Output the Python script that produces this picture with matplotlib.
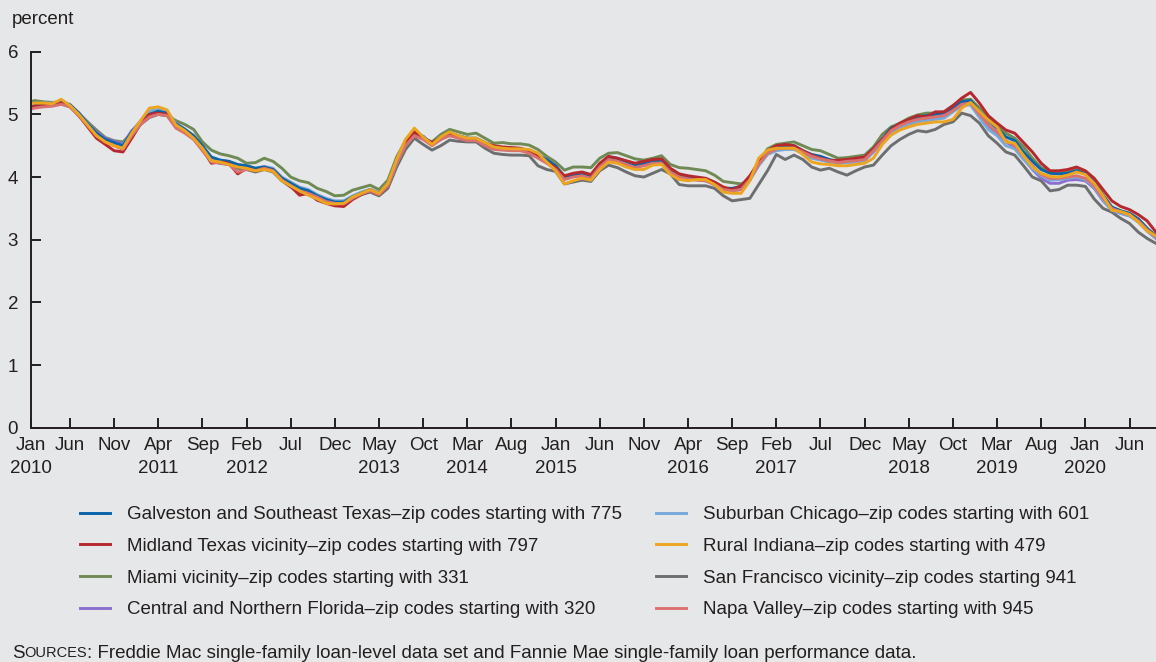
import matplotlib
matplotlib.use("Agg")
import matplotlib.pyplot as plt

plt.rcParams['font.family'] = ['Liberation Sans', 'DejaVu Sans']

# ---------------- data (monthly, Jan 2010 .. Sep 2020) ----------------
galveston = [
    5.12, 5.15, 5.16, 5.16, 5.20, 5.15, 5.02, 4.85, 4.70, 4.60, 4.55, 4.50,
    4.72, 4.88, 5.00, 5.05, 5.02, 4.85, 4.76, 4.66, 4.50, 4.32, 4.27, 4.25,
    4.20, 4.18, 4.14, 4.16, 4.12, 3.98, 3.90, 3.82, 3.78, 3.70, 3.64, 3.60,
    3.60, 3.68, 3.74, 3.80, 3.74, 3.88, 4.25, 4.52, 4.70, 4.65, 4.52, 4.60,
    4.70, 4.66, 4.62, 4.62, 4.55, 4.48, 4.47, 4.46, 4.45, 4.42, 4.35, 4.28,
    4.18, 4.01, 4.04, 4.06, 4.02, 4.20, 4.32, 4.30, 4.25, 4.20, 4.22, 4.26,
    4.27, 4.12, 4.03, 4.00, 3.98, 3.97, 3.90, 3.82, 3.82, 3.85, 4.00, 4.22,
    4.40, 4.48, 4.50, 4.50, 4.42, 4.36, 4.33, 4.28, 4.25, 4.27, 4.28, 4.30,
    4.45, 4.60, 4.78, 4.84, 4.90, 4.96, 4.98, 5.00, 5.02, 5.10, 5.20, 5.22,
    5.05, 4.90, 4.78, 4.64, 4.58, 4.40, 4.25, 4.12, 4.06, 4.05, 4.06, 4.10,
    4.05, 3.92, 3.70, 3.52, 3.46, 3.42, 3.33, 3.18, 3.05]
midland = [
    5.10, 5.13, 5.14, 5.15, 5.18, 5.14, 4.98, 4.80, 4.62, 4.52, 4.42, 4.40,
    4.62, 4.85, 5.00, 5.02, 5.00, 4.82, 4.74, 4.62, 4.45, 4.22, 4.24, 4.22,
    4.05, 4.14, 4.10, 4.14, 4.10, 3.95, 3.85, 3.71, 3.74, 3.63, 3.58, 3.54,
    3.53, 3.64, 3.72, 3.78, 3.72, 3.86, 4.25, 4.55, 4.72, 4.62, 4.55, 4.62,
    4.68, 4.64, 4.62, 4.60, 4.54, 4.50, 4.48, 4.47, 4.46, 4.42, 4.34, 4.24,
    4.15, 4.02, 4.06, 4.08, 4.04, 4.22, 4.33, 4.30, 4.26, 4.22, 4.25, 4.28,
    4.29, 4.14, 4.05, 4.02, 4.00, 3.98, 3.92, 3.84, 3.80, 3.86, 4.02, 4.24,
    4.42, 4.50, 4.52, 4.50, 4.42, 4.35, 4.30, 4.26, 4.27, 4.28, 4.30, 4.32,
    4.45, 4.60, 4.76, 4.86, 4.92, 4.98, 4.96, 5.04, 5.04, 5.14, 5.26, 5.35,
    5.18, 4.98, 4.86, 4.75, 4.70, 4.55, 4.40, 4.22, 4.10, 4.10, 4.12, 4.16,
    4.10, 3.98, 3.80, 3.62, 3.53, 3.48, 3.40, 3.30, 3.12]
miami = [
    5.18, 5.22, 5.20, 5.19, 5.20, 5.15, 5.02, 4.88, 4.75, 4.63, 4.58, 4.56,
    4.70, 4.86, 4.98, 5.00, 4.98, 4.90, 4.84, 4.76, 4.56, 4.43, 4.37, 4.34,
    4.30, 4.22, 4.23, 4.30, 4.25, 4.14, 4.00, 3.94, 3.91, 3.82, 3.77, 3.70,
    3.71, 3.79, 3.83, 3.87, 3.80, 3.95, 4.32, 4.58, 4.72, 4.62, 4.56, 4.68,
    4.76, 4.72, 4.68, 4.70, 4.62, 4.54, 4.55, 4.53, 4.53, 4.51, 4.44, 4.33,
    4.24, 4.11, 4.16, 4.16, 4.15, 4.30, 4.38, 4.39, 4.34, 4.29, 4.27, 4.30,
    4.34, 4.20, 4.15, 4.14, 4.12, 4.10, 4.03, 3.93, 3.91, 3.89, 3.95, 4.22,
    4.45, 4.52, 4.54, 4.56, 4.50, 4.44, 4.42, 4.36, 4.30, 4.31, 4.33, 4.35,
    4.48, 4.68, 4.80, 4.86, 4.94, 4.99, 5.02, 5.02, 5.04, 5.14, 5.23, 5.24,
    5.10, 4.95, 4.82, 4.70, 4.62, 4.48, 4.30, 4.15, 4.09, 4.08, 4.10, 4.12,
    4.06, 3.95, 3.72, 3.52, 3.46, 3.42, 3.33, 3.18, 3.06]
central_fl = [
    5.12, 5.16, 5.17, 5.17, 5.20, 5.15, 5.02, 4.86, 4.72, 4.62, 4.57, 4.53,
    4.74, 4.88, 5.00, 5.04, 5.00, 4.84, 4.75, 4.65, 4.48, 4.28, 4.26, 4.25,
    4.18, 4.17, 4.13, 4.15, 4.11, 3.96, 3.88, 3.80, 3.76, 3.69, 3.63, 3.59,
    3.59, 3.68, 3.75, 3.80, 3.74, 3.88, 4.26, 4.53, 4.68, 4.63, 4.52, 4.62,
    4.68, 4.64, 4.60, 4.60, 4.52, 4.45, 4.44, 4.43, 4.43, 4.40, 4.32, 4.25,
    4.12, 3.98, 4.03, 4.04, 4.00, 4.18, 4.30, 4.27, 4.22, 4.16, 4.20, 4.25,
    4.24, 4.10, 4.02, 3.99, 3.96, 3.94, 3.88, 3.82, 3.80, 3.82, 3.98, 4.20,
    4.38, 4.46, 4.46, 4.46, 4.40, 4.32, 4.28, 4.26, 4.22, 4.24, 4.25, 4.27,
    4.40, 4.56, 4.72, 4.80, 4.86, 4.88, 4.92, 4.94, 4.96, 5.05, 5.15, 5.16,
    4.98, 4.82, 4.70, 4.56, 4.48, 4.30, 4.12, 3.98, 3.90, 3.90, 3.95, 3.96,
    3.94, 3.82, 3.62, 3.48, 3.42, 3.38, 3.30, 3.14, 3.02]
chicago = [
    5.14, 5.16, 5.18, 5.18, 5.21, 5.16, 5.02, 4.85, 4.70, 4.60, 4.54, 4.50,
    4.72, 4.90, 5.05, 5.08, 5.04, 4.86, 4.77, 4.66, 4.48, 4.30, 4.27, 4.24,
    4.19, 4.18, 4.14, 4.17, 4.14, 4.00, 3.92, 3.84, 3.80, 3.72, 3.66, 3.62,
    3.62, 3.70, 3.76, 3.80, 3.74, 3.86, 4.22, 4.52, 4.68, 4.62, 4.52, 4.62,
    4.66, 4.63, 4.60, 4.60, 4.53, 4.46, 4.45, 4.44, 4.44, 4.42, 4.36, 4.28,
    4.16, 3.98, 4.02, 4.04, 4.00, 4.16, 4.28, 4.27, 4.22, 4.18, 4.20, 4.24,
    4.24, 4.10, 4.02, 3.98, 3.96, 3.95, 3.88, 3.80, 3.78, 3.80, 3.95, 4.18,
    4.36, 4.42, 4.44, 4.44, 4.38, 4.30, 4.27, 4.24, 4.22, 4.23, 4.24, 4.26,
    4.40, 4.55, 4.70, 4.78, 4.84, 4.88, 4.90, 4.92, 4.94, 5.04, 5.14, 5.15,
    4.95, 4.76, 4.66, 4.50, 4.45, 4.28, 4.13, 4.02, 3.95, 3.96, 3.98, 4.00,
    3.96, 3.84, 3.63, 3.47, 3.42, 3.38, 3.28, 3.14, 3.02]
indiana = [
    5.15, 5.18, 5.18, 5.17, 5.24, 5.14, 5.00, 4.83, 4.66, 4.56, 4.50, 4.46,
    4.70, 4.90, 5.10, 5.12, 5.07, 4.83, 4.74, 4.62, 4.46, 4.26, 4.24, 4.20,
    4.16, 4.14, 4.10, 4.12, 4.09, 3.94, 3.86, 3.78, 3.71, 3.65, 3.58, 3.57,
    3.58, 3.68, 3.74, 3.80, 3.74, 3.90, 4.28, 4.60, 4.78, 4.64, 4.52, 4.64,
    4.72, 4.66, 4.62, 4.62, 4.55, 4.48, 4.46, 4.45, 4.45, 4.44, 4.38, 4.24,
    4.10, 3.89, 3.94, 3.98, 3.95, 4.12, 4.24, 4.22, 4.16, 4.12, 4.12, 4.19,
    4.20, 4.04, 3.96, 3.94, 3.96, 3.96, 3.88, 3.76, 3.74, 3.74, 3.94, 4.30,
    4.43, 4.46, 4.46, 4.46, 4.36, 4.24, 4.21, 4.20, 4.18, 4.18, 4.20, 4.22,
    4.30, 4.52, 4.67, 4.75, 4.80, 4.84, 4.86, 4.88, 4.88, 4.92, 5.10, 5.19,
    5.05, 4.91, 4.80, 4.56, 4.54, 4.34, 4.16, 4.06, 4.01, 4.00, 4.03, 4.08,
    4.04, 3.90, 3.70, 3.47, 3.45, 3.40, 3.28, 3.14, 3.06]
san_francisco = [
    5.08, 5.12, 5.13, 5.14, 5.17, 5.12, 4.98, 4.82, 4.66, 4.58, 4.52, 4.46,
    4.66, 4.84, 4.95, 5.00, 4.98, 4.80, 4.72, 4.62, 4.46, 4.26, 4.22, 4.20,
    4.14, 4.12, 4.08, 4.12, 4.08, 3.94, 3.84, 3.76, 3.72, 3.66, 3.60, 3.58,
    3.58, 3.66, 3.72, 3.76, 3.70, 3.82, 4.16, 4.44, 4.62, 4.52, 4.43, 4.50,
    4.59, 4.57, 4.56, 4.56, 4.46, 4.38, 4.36, 4.35, 4.35, 4.34, 4.18, 4.12,
    4.09, 3.89, 3.92, 3.95, 3.93, 4.10, 4.19, 4.15, 4.08, 4.02, 4.00, 4.06,
    4.12, 4.05, 3.88, 3.86, 3.86, 3.86, 3.82, 3.70, 3.62, 3.64, 3.66, 3.88,
    4.10, 4.36, 4.28, 4.35, 4.28, 4.16, 4.11, 4.14, 4.08, 4.03, 4.10, 4.16,
    4.19, 4.35, 4.50, 4.60, 4.68, 4.74, 4.72, 4.76, 4.84, 4.88, 5.02, 4.98,
    4.86, 4.66, 4.54, 4.40, 4.35, 4.18, 4.00, 3.94, 3.78, 3.80, 3.87, 3.87,
    3.85, 3.65, 3.50, 3.44, 3.34, 3.26, 3.12, 3.02, 2.94]
napa = [
    5.06, 5.10, 5.12, 5.13, 5.16, 5.12, 4.98, 4.82, 4.66, 4.56, 4.50, 4.44,
    4.66, 4.84, 4.96, 5.00, 4.98, 4.78, 4.70, 4.60, 4.42, 4.24, 4.22, 4.20,
    4.08, 4.12, 4.10, 4.14, 4.10, 3.95, 3.86, 3.78, 3.74, 3.68, 3.61, 3.58,
    3.57, 3.66, 3.73, 3.78, 3.72, 3.86, 4.22, 4.50, 4.66, 4.60, 4.50, 4.60,
    4.66, 4.62, 4.58, 4.58, 4.50, 4.44, 4.43, 4.42, 4.42, 4.38, 4.30, 4.22,
    4.12, 3.96, 4.00, 4.02, 3.98, 4.16, 4.28, 4.25, 4.20, 4.15, 4.18, 4.22,
    4.22, 4.08, 4.00, 3.97, 3.95, 3.94, 3.88, 3.80, 3.78, 3.80, 3.96, 4.20,
    4.38, 4.45, 4.46, 4.46, 4.40, 4.33, 4.29, 4.26, 4.23, 4.25, 4.26, 4.28,
    4.42, 4.58, 4.74, 4.82, 4.88, 4.92, 4.94, 4.96, 4.98, 5.06, 5.16, 5.18,
    5.00, 4.84, 4.72, 4.58, 4.50, 4.34, 4.18, 4.04, 3.98, 3.98, 4.00, 4.02,
    3.98, 3.86, 3.66, 3.50, 3.44, 3.40, 3.30, 3.16, 3.04]

labels = [
    "Galveston and Southeast Texas\u2013zip codes starting with 775",
    "Midland Texas vicinity\u2013zip codes starting with 797",
    "Miami vicinity\u2013zip codes starting with 331",
    "Central and Northern Florida\u2013zip codes starting with 320",
    "Suburban Chicago\u2013zip codes starting with 601",
    "Rural Indiana\u2013zip codes starting with 479",
    "San Francisco vicinity\u2013zip codes starting 941",
    "Napa Valley\u2013zip codes starting with 945",
]
series = [galveston, midland, miami, central_fl, chicago, indiana, san_francisco, napa]
colors = ["#0a64a8", "#b5282e", "#6f8a55", "#8a6fd0", "#79a8da", "#eba520", "#6d6e70", "#d9726f"]

tick_pos = list(range(0, 126, 5))
tick_labels = ["Jan\n2010", "Jun", "Nov", "Apr\n2011", "Sep", "Feb\n2012", "Jul", "Dec",
               "May\n2013", "Oct", "Mar\n2014", "Aug", "Jan\n2015", "Jun", "Nov",
               "Apr\n2016", "Sep", "Feb\n2017", "Jul", "Dec", "May\n2018", "Oct",
               "Mar\n2019", "Aug", "Jan\n2020", "Jun"]

# ---------------- figure ----------------
W, H = 1156, 662
FS = 13.5
bg = "#e6e7e8"
ink = "#231f20"
fig = plt.figure(figsize=(W / 100, H / 100), dpi=100, facecolor=bg)
ax_left, ax_right, ax_bot, ax_top = 30.7, 1156, 427.7, 51.7
ax = fig.add_axes([ax_left / W, 1 - ax_bot / H, (ax_right - ax_left) / W, (ax_bot - ax_top) / H])
ax.set_facecolor(bg)

draw_order = [6, 2, 3, 4, 0, 1, 7, 5]
x = list(range(len(galveston)))
handles = {}
for i in draw_order:
    ln, = ax.plot(x, series[i], color=colors[i], lw=2.1, label=labels[i])
    handles[i] = ln

ax.set_xlim(0.55, 128)
ax.set_ylim(0, 6)
ax.set_yticks(range(0, 7))
xt = [max(p, 0.55) for p in tick_pos]
ax.set_xticks(xt)
ax.set_xticklabels(tick_labels)
for s in ("top", "right"):
    ax.spines[s].set_visible(False)
for s in ("left", "bottom"):
    ax.spines[s].set_color(ink)
    ax.spines[s].set_linewidth(1.4)
ax.tick_params(axis="both", direction="in", length=7, width=1.4, color=ink,
               labelsize=FS, labelcolor=ink)
ax.tick_params(axis="y", pad=9)
ax.tick_params(axis="x", pad=7)
for t in ax.get_xticklabels():
    t.set_linespacing(1.45)

fig.text(12 / W, 1 - 20 / H, "percent", fontsize=FS, color=ink, va="center", ha="left")

# legend: two columns
col1 = [handles[i] for i in range(4)]
col2 = [handles[i] for i in range(4, 8)]
common = dict(frameon=False, fontsize=FS, handlelength=1.6, handletextpad=0.9,
              labelspacing=0.78, borderpad=0, borderaxespad=0, loc="upper left",
              labelcolor=ink)
leg1 = fig.legend(col1, [labels[i] for i in range(4)],
                  bbox_to_anchor=(80 / W, 1 - 506 / H), **common)
leg2 = fig.legend(col2, [labels[i] for i in range(4, 8)],
                  bbox_to_anchor=(656 / W, 1 - 506 / H), **common)

# source note with small caps "SOURCES"
fig.canvas.draw()
r = fig.canvas.get_renderer()
y_src = 1 - 653 / H
t1 = fig.text(12 / W, y_src, "S", fontsize=FS, color=ink, va="center")
bb = t1.get_window_extent(r)
t2 = fig.text(bb.x1 / W, y_src, "OURCES", fontsize=FS * 0.78, color=ink, va="center")
bb2 = t2.get_window_extent(r)
fig.text(bb2.x1 / W, y_src,
         ": Freddie Mac single-family loan-level data set and Fannie Mae single-family loan performance data.",
         fontsize=FS, color=ink, va="center")

fig.savefig("out.png", dpi=100, facecolor=bg)
